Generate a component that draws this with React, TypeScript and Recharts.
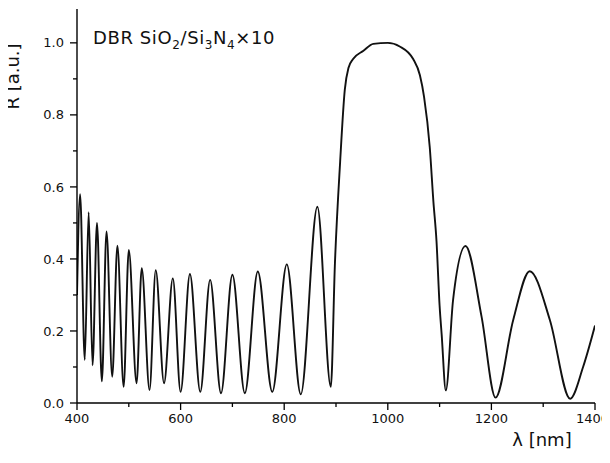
import React from 'react';
import { LineChart, Line, XAxis, YAxis } from 'recharts';

const wavelengths = [
  400, 406, 415, 422.5, 430, 438.6, 448, 457, 468, 478, 490, 500, 515, 525, 540, 552, 568, 585, 600, 618,
  638, 657, 678, 700, 724, 749, 777, 805, 832, 864, 890, 898, 908, 917, 924, 933, 953, 972, 1000, 1023,
  1049, 1062, 1070, 1081, 1088, 1094, 1100, 1104, 1112, 1126, 1150, 1181, 1208, 1242, 1274, 1313, 1352, 1377, 1400,
];
const reflectance = [
  0.3, 0.58, 0.12, 0.53, 0.105, 0.5, 0.06, 0.476, 0.073, 0.437, 0.045, 0.425, 0.055, 0.374, 0.036, 0.369, 0.055, 0.346, 0.031, 0.358,
  0.031, 0.342, 0.027, 0.356, 0.027, 0.365, 0.031, 0.385, 0.024, 0.545, 0.045, 0.39, 0.67, 0.87, 0.93, 0.955, 0.978, 0.997, 1.0, 0.99,
  0.955, 0.91, 0.85, 0.71, 0.56, 0.45, 0.27, 0.19, 0.035, 0.286, 0.436, 0.24, 0.015, 0.23, 0.366, 0.23, 0.012, 0.1, 0.215,
];
const xTicks = [400, 500, 600, 700, 800, 900, 1000, 1100, 1200, 1300, 1400];
const yTicks = [0, 0.1, 0.2, 0.3, 0.4, 0.5, 0.6, 0.7, 0.8, 0.9, 1.0];

const data = wavelengths.map((w, i) => ({ w, r: reflectance[i] }));

const FONT = '"DejaVu Sans", sans-serif';

const XTick = (props: any) => {
  const { x, y, payload } = props;
  const v = payload.value as number;
  const major = Math.round(v / 100) % 2 === 0;
  const last = v === 1400;
  return (
    <g>
      <line x1={x} x2={x} y1={y} y2={y + (major ? 7 : 4)} stroke="#000" strokeWidth={1.3} />
      {major && (
        <text
          x={last ? x + 14 : x}
          y={y + 20}
          textAnchor={last ? 'end' : 'middle'}
          fontSize={13}
          fontFamily={FONT}
          fill="#111"
        >
          {v}
        </text>
      )}
    </g>
  );
};

const YTick = (props: any) => {
  const { x, y, payload } = props;
  const v = payload.value as number;
  const major = Math.round(v * 10) % 2 === 0;
  return (
    <g>
      <line x1={x} x2={x - (major ? 7 : 4)} y1={y} y2={y} stroke="#000" strokeWidth={1.3} />
      {major && (
        <text x={x - 13} y={y + 4.6} textAnchor="end" fontSize={13} fontFamily={FONT} fill="#111">
          {v.toFixed(1)}
        </text>
      )}
    </g>
  );
};

export default function App() {
  return (
    <div style={{ position: 'relative', width: 602, height: 447 }}>
      <LineChart width={602} height={447} data={data} margin={{ top: 1, right: 15, bottom: 0, left: 0 }}>
        <XAxis
          dataKey="w"
          type="number"
          domain={[400, 1400]}
          ticks={xTicks}
          interval={0}
          tick={<XTick />}
          tickLine={false}
          tickSize={0}
          tickMargin={0}
          height={52}
          axisLine={{ stroke: '#000', strokeWidth: 1.4 }}
          allowDataOverflow
        />
        <XAxis
          xAxisId="top"
          orientation="top"
          dataKey="w"
          type="number"
          domain={[400, 1400]}
          tick={false}
          tickLine={false}
          height={0}
          axisLine={{ stroke: '#000', strokeWidth: 1.4 }}
        />
        <YAxis
          type="number"
          domain={[0, 1.094]}
          ticks={yTicks}
          interval={0}
          tick={<YTick />}
          tickLine={false}
          tickSize={0}
          tickMargin={0}
          width={69}
          axisLine={{ stroke: '#000', strokeWidth: 1.4 }}
          allowDataOverflow
        />
        <YAxis
          yAxisId="right"
          orientation="right"
          type="number"
          domain={[0, 1.094]}
          tick={false}
          tickLine={false}
          width={0}
          axisLine={{ stroke: '#000', strokeWidth: 1.4 }}
        />
        <Line
          type="monotone"
          dataKey="r"
          stroke="#111"
          strokeWidth={1.9}
          dot={false}
          isAnimationActive={false}
        />
      </LineChart>
      <svg
        width={602}
        height={447}
        style={{ position: 'absolute', left: -8, top: -8, pointerEvents: 'none', overflow: 'visible' }}
      >
        <text x={93} y={44} fontSize={18} letterSpacing={0.6} fontFamily={FONT} fill="#111">
          DBR SiO
          <tspan fontSize={12} dy={5}>2</tspan>
          <tspan dy={-5}>/Si</tspan>
          <tspan fontSize={12} dy={5}>3</tspan>
          <tspan dy={-5}>N</tspan>
          <tspan fontSize={12} dy={5}>4</tspan>
          <tspan dy={-5}>×10</tspan>
        </text>
        <text x={542} y={446} textAnchor="middle" fontSize={18} fontFamily={FONT} fill="#111">
          λ [nm]
        </text>
        <text
          x={19}
          y={76.5}
          textAnchor="middle"
          fontSize={18}
          fontFamily={FONT}
          fill="#111"
          transform="rotate(-90 19 76.5)"
        >
          R [a.u.]
        </text>
      </svg>
    </div>
  );
}
